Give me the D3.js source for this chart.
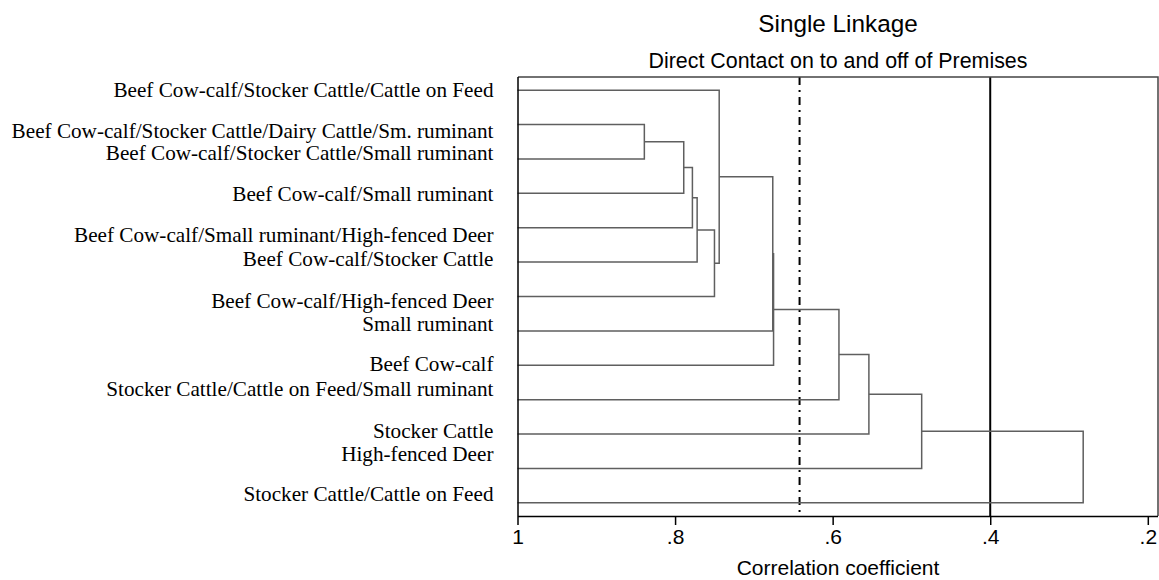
<!DOCTYPE html>
<html>
<head>
<meta charset="utf-8">
<script src="https://cdn.jsdelivr.net/npm/d3@7"></script>
<style>
  html, body { margin: 0; padding: 0; background: #fff; }
  svg { display: block; }
</style>
</head>
<body>
<svg id="chart" width="1159" height="580"></svg>
<script>
// ---------------- DATA ----------------
const leafLabels = [
  "Beef Cow-calf/Stocker Cattle/Cattle on Feed",
  "Beef Cow-calf/Stocker Cattle/Dairy Cattle/Sm. ruminant",
  "Beef Cow-calf/Stocker Cattle/Small ruminant",
  "Beef Cow-calf/Small ruminant",
  "Beef Cow-calf/Small ruminant/High-fenced Deer",
  "Beef Cow-calf/Stocker Cattle",
  "Beef Cow-calf/High-fenced Deer",
  "Small ruminant",
  "Beef Cow-calf",
  "Stocker Cattle/Cattle on Feed/Small ruminant",
  "Stocker Cattle",
  "High-fenced Deer",
  "Stocker Cattle/Cattle on Feed"
];
// merges: index >= leafLabels.length refers to earlier merge (n + k)
const mergeLeft   = [1, 13, 14, 15, 16, 0, 18, 19, 20, 21, 22, 23];
const mergeRight  = [2, 3, 4, 5, 6, 17, 7, 8, 9, 10, 11, 12];
const mergeHeight = [0.839, 0.789, 0.778, 0.772, 0.750, 0.744, 0.676, 0.675, 0.592, 0.554, 0.487, 0.282];
const xTicks = [1, 0.8, 0.6, 0.4, 0.2];
const xTickLabels = ["1", ".8", ".6", ".4", ".2"];
const refSolid = 0.4;
const refDashDot = 0.642;
const title = "Single Linkage";
const subtitle = "Direct Contact on to and off of Premises";
const xTitle = "Correlation coefficient";

// ---------------- LAYOUT ----------------
const plot = { left: 518, right: 1158, top: 77, bottom: 516 };
const labelShift = [0, 6.2, -5.5, 1.2, 7.8, -2.6, 4.7, -6.4, -0.7, -10, -2.8, -13.9, -8.3];

const svg = d3.select("#chart");
const n = leafLabels.length;

const x = d3.scaleLinear().domain([1, 0.2]).range([517.5, 1147.8]);
const y = d3.scalePoint().domain(d3.range(n)).range([plot.top, plot.bottom]).padding(0.384);

// compute node positions
const nodeY = [], nodeH = [];
for (let i = 0; i < n; i++) { nodeY[i] = y(i); nodeH[i] = 1; }
mergeHeight.forEach((h, k) => {
  const a = mergeLeft[k], b = mergeRight[k];
  nodeY[n + k] = (nodeY[a] + nodeY[b]) / 2;
  nodeH[n + k] = h;
});

// reference lines (drawn under dendrogram)
svg.append("line")
  .attr("x1", x(refDashDot)).attr("x2", x(refDashDot))
  .attr("y1", plot.top).attr("y2", plot.bottom)
  .attr("stroke", "#000").attr("stroke-width", 2)
  .attr("stroke-dasharray", "8,5,2,5");
svg.append("line")
  .attr("x1", x(refSolid)).attr("x2", x(refSolid))
  .attr("y1", plot.top).attr("y2", plot.bottom)
  .attr("stroke", "#000").attr("stroke-width", 2);

// dendrogram links
const g = svg.append("g").attr("fill", "none").attr("stroke", "#5f5f5f").attr("stroke-width", 1.5);
mergeHeight.forEach((h, k) => {
  const a = mergeLeft[k], b = mergeRight[k];
  const xh = x(h);
  const path = d3.path();
  path.moveTo(x(nodeH[a]), nodeY[a]);
  path.lineTo(xh, nodeY[a]);
  path.lineTo(xh, nodeY[b]);
  path.lineTo(x(nodeH[b]), nodeY[b]);
  g.append("path").attr("d", path.toString());
});

// frame top/right
svg.append("path")
  .attr("d", `M${plot.left},${plot.top}H${plot.right}V${plot.bottom}`)
  .attr("fill", "none").attr("stroke", "#444").attr("stroke-width", 1.5);

// x axis
const xAxis = d3.axisBottom(x).tickValues(xTicks).tickSize(9).tickPadding(4)
  .tickFormat((d, i) => xTickLabels[i]);
const ax = svg.append("g").attr("transform", `translate(0,${plot.bottom})`).call(xAxis);
ax.select(".domain").attr("d", `M${plot.left},0.5H${plot.right}`).attr("stroke", "#000").attr("stroke-width", 1.5);
ax.selectAll(".tick line").attr("stroke", "#000").attr("stroke-width", 1.5);
ax.selectAll(".tick text")
  .attr("font-family", "'Liberation Sans', Arial, sans-serif")
  .attr("font-size", 21).attr("fill", "#000");

// left axis line
svg.append("line")
  .attr("x1", plot.left).attr("x2", plot.left)
  .attr("y1", plot.top).attr("y2", plot.bottom)
  .attr("stroke", "#000").attr("stroke-width", 1.5);

// leaf labels
svg.append("g").selectAll("text").data(leafLabels).join("text")
  .attr("x", 493.5)
  .attr("y", (d, i) => y(i) + labelShift[i] + 6.8)
  .attr("text-anchor", "end")
  .attr("font-family", "'Liberation Serif', 'Times New Roman', serif")
  .attr("font-size", 21.2)
  .attr("fill", "#000")
  .text(d => d);

// titles
const cx = (plot.left + plot.right) / 2;
svg.append("text").attr("x", cx).attr("y", 32).attr("text-anchor", "middle")
  .attr("font-family", "'Liberation Sans', Arial, sans-serif").attr("font-size", 24.3)
  .text(title);
svg.append("text").attr("x", cx).attr("y", 68).attr("text-anchor", "middle")
  .attr("font-family", "'Liberation Sans', Arial, sans-serif").attr("font-size", 21.4)
  .text(subtitle);
svg.append("text").attr("x", cx).attr("y", 575).attr("text-anchor", "middle")
  .attr("font-family", "'Liberation Sans', Arial, sans-serif").attr("font-size", 21)
  .text(xTitle);
</script>
</body>
</html>
